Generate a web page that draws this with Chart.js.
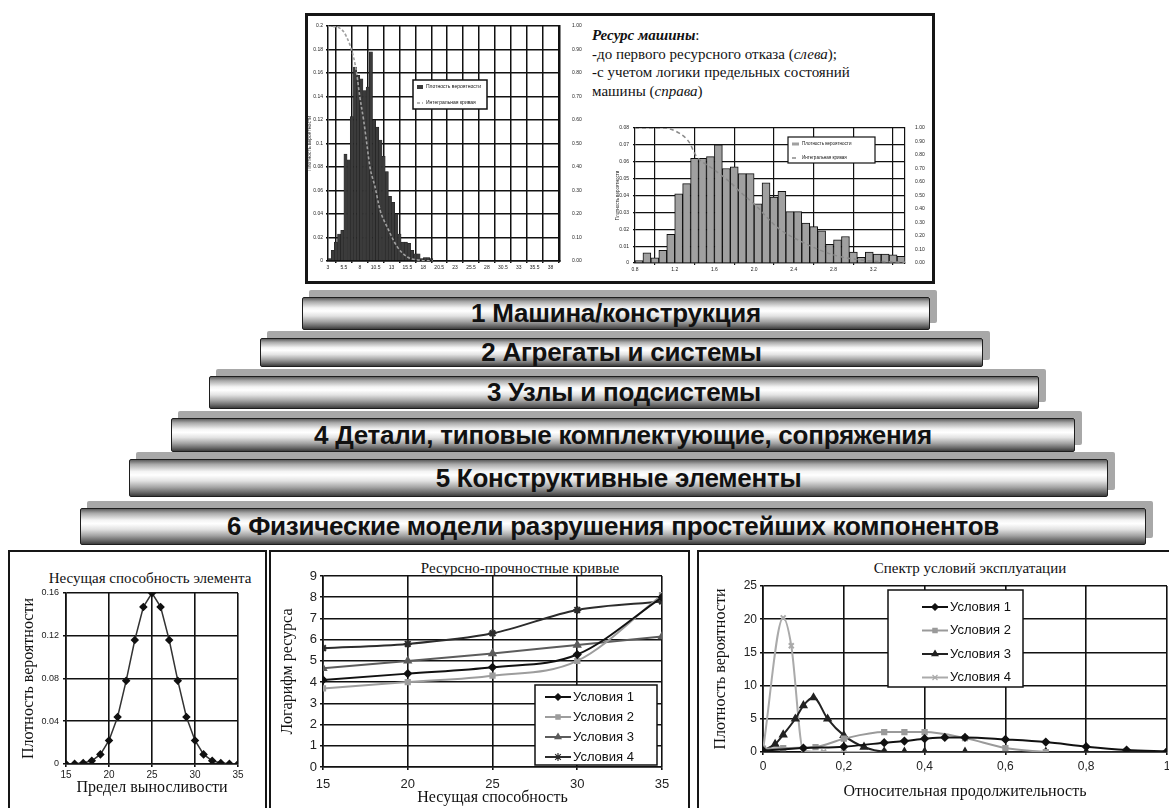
<!DOCTYPE html>
<html lang="ru">
<head>
<meta charset="UTF-8">
<title>Ресурс машины</title>
<script src="https://cdn.jsdelivr.net/npm/chart.js@4.4.1/dist/chart.umd.min.js"></script>
<style>
  html, body { margin: 0; padding: 0; background: #fff; overflow: hidden; }
  #page { position: relative; width: 1169px; height: 808px; overflow: hidden; background: #fff; }
  .box { position: absolute; box-sizing: border-box; border: 2px solid #161616; background: #fff; }
  .plot { position: absolute; }
  .level {
    position: absolute; box-sizing: border-box; border: 1.5px solid #1e1e1e; border-radius: 2px;
    background: linear-gradient(to bottom, #5e5e5e 0%, #a9a9a9 12%, #f4f4f4 32%, #ffffff 42%, #e2e2e2 58%, #a4a4a4 76%, #6a6a6a 90%, #3c3c3c 100%);
    box-shadow: 7px -7px 0 #a8a8a8;
    display: flex; align-items: center; justify-content: center; white-space: nowrap;
    font-family: "Liberation Sans", Arial, sans-serif; font-weight: bold; font-size: 26px; letter-spacing: -0.25px; color: #111;
  }
  .cap { position: absolute; font-family: "Liberation Serif", "Times New Roman", serif; color: #111; white-space: nowrap; transform: translate(-50%, -50%); }
  #note { position: absolute; left: 592px; top: 26px; font-family: "Liberation Serif", serif; font-size: 15px; line-height: 18.5px; color: #111; white-space: nowrap; }
</style>
</head>
<body>
<div id="page">
  <div class="box" style="left:305px; top:13px; width:630px; height:271px; border-width:3px;"></div>
  <div id="note">
    <b><i>Ресурс машины</i></b>:<br>
    -до первого ресурсного отказа (<i>слева</i>);<br>
    -с учетом логики предельных состояний<br>
    машины (<i>справа</i>)
  </div>
  <div class="plot" style="left:306px; top:18px; width:280px; height:260px;"><canvas id="histLeft"></canvas></div>
  <div class="plot" style="left:612px; top:118px; width:318px; height:160px;"><canvas id="histRight"></canvas></div>

  <div id="levels"></div>

  <div class="box" style="left:8px; top:550px; width:259px; height:280px;"></div>
  <div class="box" style="left:269px; top:550px; width:421px; height:280px;"></div>
  <div class="box" style="left:697px; top:550px; width:500px; height:280px;"></div>

  <div class="cap" style="left:150px; top:578px; font-size:15px;">Несущая способность элемента</div>
  <div class="cap" style="left:520px; top:568px; font-size:15px;">Ресурсно-прочностные кривые</div>
  <div class="cap" style="left:970px; top:568px; font-size:15px;">Спектр условий эксплуатации</div>

  <div class="plot" style="left:12px; top:553px; width:251px; height:255px;"><canvas id="loadChart"></canvas></div>
  <div class="plot" style="left:272px; top:553px; width:414px; height:255px;"><canvas id="lifeChart"></canvas></div>
  <div class="plot" style="left:701px; top:553px; width:478px; height:255px;"><canvas id="specChart"></canvas></div>
</div>

<script>
  // --- top-left histogram: resource to first failure ---
  const leftHistBins = [3.25, 3.75, 4.25, 4.75, 5.25, 5.75, 6.25, 6.75, 7.25, 7.75, 8.25, 8.75, 9.25, 9.75, 10.25, 10.75,
    11.25, 11.75, 12.25, 12.75, 13.25, 13.75, 14.25, 14.75, 15.25, 15.75, 16.25, 16.75, 17.25, 17.75, 18.25, 18.75, 19.25];
  const leftHistDensity = [0.002, 0.009, 0.016, 0.023, 0.026, 0.091, 0.086, 0.123, 0.165, 0.158, 0.155, 0.145, 0.148, 0.178, 0.12, 0.114,
    0.103, 0.089, 0.076, 0.055, 0.05, 0.04, 0.023, 0.016, 0.016, 0.015, 0.009, 0.006, 0.006, 0.002, 0.003, 0.003, 0.002];
  const leftSurvX = [3, 4.9, 5.9, 7, 7.5, 8, 8.6, 9.1, 9.6, 10.4, 11.2, 12.3, 13.9, 15.5, 17.6, 19.5];
  const leftSurvP = [1, 0.99, 0.955, 0.87, 0.8, 0.7, 0.6, 0.5, 0.4, 0.315, 0.216, 0.145, 0.06, 0.017, 0.003, 0];
  const leftHistTicks = [3, 5.5, 8, 10.5, 13, 15.5, 18, 20.5, 23, 25.5, 28, 30.5, 33, 35.5, 38];

  // --- top-right histogram: resource with limit-state logic ---
  const rightHistBins = [0.84, 0.92, 1.00, 1.08, 1.16, 1.24, 1.32, 1.40, 1.48, 1.56, 1.64, 1.72, 1.80, 1.88, 1.96, 2.04, 2.12,
    2.20, 2.28, 2.36, 2.44, 2.52, 2.60, 2.68, 2.76, 2.84, 2.92, 3.00, 3.08, 3.16, 3.24, 3.32, 3.40, 3.48];
  const rightHistDensity = [0.0014, 0.006, 0.003, 0.0075, 0.017, 0.041, 0.047, 0.062, 0.062, 0.063, 0.070, 0.056, 0.057, 0.053, 0.053, 0.035, 0.0475,
    0.039, 0.0425, 0.0305, 0.0305, 0.0236, 0.0216, 0.019, 0.011, 0.0138, 0.0157, 0.0065, 0.0033, 0.0065, 0.0053, 0.0053, 0.0049, 0.004];
  const rightSurvX = [0.8, 1.08, 1.25, 1.35, 1.41, 1.58, 1.74, 1.87, 2.01, 2.24, 2.5, 2.8, 3.1, 3.52];
  const rightSurvP = [1, 1, 0.96, 0.89, 0.8, 0.7, 0.61, 0.52, 0.43, 0.26, 0.15, 0.06, 0.02, 0.005];
  const rightHistTicks = [0.8, 1.2, 1.6, 2.0, 2.4, 2.8, 3.2];

  // --- hierarchy levels ---
  const levelNames = ['1 Машина/конструкция', '2 Агрегаты и системы', '3 Узлы и подсистемы',
    '4 Детали, типовые комплектующие, сопряжения', '5 Конструктивные элементы',
    '6 Физические модели разрушения простейших компонентов'];

  // --- bottom-left: element bearing capacity ---
  const enduranceX = [15, 16, 17, 18, 19, 20, 21, 22, 23, 24, 25, 26, 27, 28, 29, 30, 31, 32, 33, 34, 35];
  const endurancePdf = [0, 0.0002, 0.001, 0.003, 0.009, 0.022, 0.044, 0.078, 0.116, 0.147, 0.16, 0.147, 0.116, 0.078, 0.044, 0.022, 0.009, 0.003, 0.001, 0.0002, 0];

  // --- bottom-middle: life vs strength curves ---
  const strengthX = [15, 20, 25, 30, 35];
  const lifeCond1 = [4.1, 4.4, 4.7, 5.3, 8.0];
  const lifeCond2 = [3.7, 4.0, 4.3, 5.0, 8.1];
  const lifeCond3 = [4.65, 5.0, 5.35, 5.75, 6.15];
  const lifeCond4 = [5.6, 5.8, 6.3, 7.4, 7.8];
  const condNames = ['Условия 1', 'Условия 2', 'Условия 3', 'Условия 4'];

  // --- bottom-right: operating conditions spectrum ---
  const specX1 = [0, 0.1, 0.2, 0.3, 0.35, 0.4, 0.45, 0.5, 0.6, 0.7, 0.8, 0.9, 1.0];
  const specY1 = [0.2, 0.6, 0.8, 1.4, 1.65, 2.0, 2.2, 2.2, 1.9, 1.5, 0.8, 0.3, 0.1];
  const specX2 = [0, 0.05, 0.13, 0.2, 0.3, 0.35, 0.4, 0.5, 0.6, 0.7];
  const specY2 = [0.5, 0.6, 0.75, 2.0, 3.0, 3.0, 3.0, 2.1, 0.6, 0];
  const specX3 = [0, 0.03, 0.05, 0.08, 0.1, 0.125, 0.16, 0.2, 0.25, 0.3, 0.35, 0.4, 0.5, 0.6, 0.7, 0.8, 0.9, 1.0];
  const specY3 = [0.2, 1.2, 2.6, 5.0, 7.0, 8.2, 5.0, 2.5, 0.75, 0.05, 0, 0, 0, 0, 0, 0, 0, 0];
  const specX4 = [0, 0.05, 0.07, 0.1, 0.15, 0.2, 0.3];
  const specY4 = [0.3, 20.2, 16, 0.2, 0, 0, 0];

  const zip = (xs, ys) => xs.map((x, i) => ({ x: x, y: ys[i] }));
  const fit = n => s => { if (s.isHorizontal()) s.height = n; else s.width = n; };

  Chart.defaults.font.family = '"Liberation Sans", Arial, sans-serif';
  Chart.defaults.color = '#222';

  // legend drawn as a framed box inside the plot
  const boxLegend = {
    id: 'boxLegend',
    afterDatasetsDraw(chart, args, o) {
      if (!o || !o.display) return;
      const ctx = chart.ctx;
      ctx.save();
      ctx.fillStyle = '#fff';
      ctx.fillRect(o.x, o.y, o.w, o.h);
      ctx.lineWidth = o.border;
      ctx.strokeStyle = '#111';
      ctx.strokeRect(o.x, o.y, o.w, o.h);
      ctx.font = o.font;
      ctx.textBaseline = 'middle';
      chart.data.datasets.forEach((ds, i) => {
        const cy = o.y + o.row0 + i * o.rowH;
        const x0 = o.x + o.line0, x1 = o.x + o.line1;
        if ((ds.type || chart.config.type) === 'bar') {
          ctx.fillStyle = ds.backgroundColor;
          ctx.fillRect(x0, cy - o.sq / 2, x1 - x0, o.sq);
        } else {
          ctx.strokeStyle = ds.borderColor;
          ctx.lineWidth = ds.borderWidth;
          ctx.setLineDash(ds.borderDash || []);
          ctx.beginPath(); ctx.moveTo(x0, cy); ctx.lineTo(x1, cy); ctx.stroke();
          ctx.setLineDash([]);
          if (ds.pointRadius > 0) {
            ctx.fillStyle = ds.pointBackgroundColor;
            ctx.strokeStyle = ds.pointBorderColor;
            ctx.lineWidth = 1.2;
            Chart.helpers.drawPoint(ctx, { pointStyle: ds.pointStyle, radius: ds.pointRadius, borderWidth: 1.2, rotation: 0 }, (x0 + x1) / 2, cy);
          }
        }
        ctx.fillStyle = '#111';
        ctx.fillText(ds.label, o.x + o.text, cy);
      });
      ctx.restore();
    }
  };
  Chart.register(boxLegend);

  const base = {
    responsive: true,
    maintainAspectRatio: false,
    animation: false,
    plugins: { legend: { display: false }, tooltip: { enabled: false } }
  };

  // top-left histogram
  new Chart(document.getElementById('histLeft'), {
    type: 'bar',
    data: {
      datasets: [
        { type: 'bar', label: 'Плотность вероятности', data: zip(leftHistBins, leftHistDensity), backgroundColor: '#3b3b3b',
          borderColor: '#1e1e1e', borderWidth: 0.5, barPercentage: 1, categoryPercentage: 1, yAxisID: 'y', order: 2 },
        { type: 'line', label: 'Интегральная кривая', data: zip(leftSurvX, leftSurvP), borderColor: '#a0a0a0', borderWidth: 1.6,
          borderDash: [3, 2], pointRadius: 0, cubicInterpolationMode: 'monotone', yAxisID: 'y2', order: 1 }
      ]
    },
    options: {
      ...base,
      layout: { padding: { top: 8 } },
      plugins: { ...base.plugins,
        boxLegend: { display: true, x: 107, y: 62, w: 74, h: 29, border: 1.5, row0: 7, rowH: 16, line0: 4, line1: 10, sq: 4, text: 13, font: '5px "Liberation Sans"' } },
      scales: {
        x: { type: 'linear', min: 3, max: 39.5, offset: false, afterFit: fit(17),
          afterBuildTicks: s => { s.ticks = leftHistTicks.map(v => ({ value: v })); },
          grid: { color: '#111', lineWidth: 1.5, tickLength: 2 }, border: { color: '#111', width: 1.5 },
          ticks: { font: { size: 5 }, padding: 2, maxRotation: 0, autoSkip: false, callback: v => String(v) } },
        y: { min: 0, max: 0.2, afterFit: fit(22),
          grid: { color: '#111', lineWidth: 1.5, tickLength: 2 }, border: { color: '#111', width: 1.5 },
          ticks: { stepSize: 0.02, font: { size: 5 }, padding: 3, callback: v => (v === 0 ? '0' : String(+v.toFixed(2))) },
          title: { display: true, text: 'Плотность вероятности', font: { size: 5 }, padding: { top: 1 } } },
        y2: { position: 'right', min: 0, max: 1, afterFit: fit(26),
          grid: { display: false }, border: { color: '#111', width: 1.5 },
          ticks: { stepSize: 0.1, font: { size: 5 }, padding: 4, callback: v => v.toFixed(2) } }
      }
    }
  });

  // top-right histogram
  new Chart(document.getElementById('histRight'), {
    type: 'bar',
    data: {
      datasets: [
        { type: 'bar', label: 'Плотность вероятности', data: zip(rightHistBins, rightHistDensity), backgroundColor: '#a0a0a0',
          borderColor: '#111', borderWidth: 1, barPercentage: 1, categoryPercentage: 1, yAxisID: 'y', order: 2 },
        { type: 'line', label: 'Интегральная кривая', data: zip(rightSurvX, rightSurvP), borderColor: '#8a8a8a', borderWidth: 1.5,
          borderDash: [4, 3], pointRadius: 0, cubicInterpolationMode: 'monotone', yAxisID: 'y2', order: 1 }
      ]
    },
    options: {
      ...base,
      layout: { padding: { top: 10 } },
      plugins: { ...base.plugins,
        boxLegend: { display: true, x: 176, y: 19, w: 87, h: 26, border: 1.2, row0: 7, rowH: 14, line0: 4, line1: 11, sq: 3, text: 14, font: '4.5px "Liberation Sans"' } },
      scales: {
        x: { type: 'linear', min: 0.8, max: 3.52, offset: false, afterFit: fit(15),
          afterBuildTicks: s => { s.ticks = rightHistTicks.map(v => ({ value: v })); },
          grid: { color: '#111', lineWidth: 1.2, tickLength: 2 }, border: { color: '#111', width: 1.2 },
          ticks: { font: { size: 5 }, padding: 2, maxRotation: 0, autoSkip: false, callback: v => v.toFixed(1) } },
        y: { min: 0, max: 0.08, afterFit: fit(23),
          grid: { color: '#111', lineWidth: 1.2, tickLength: 2 }, border: { color: '#111', width: 1.2 },
          ticks: { stepSize: 0.01, font: { size: 5 }, padding: 4, callback: v => (v === 0 ? '0' : v.toFixed(2)) },
          title: { display: true, text: 'Плотность вероятности', font: { size: 4.5 }, padding: { top: 3 } } },
        y2: { position: 'right', min: 0, max: 1, afterFit: fit(25),
          grid: { display: false }, border: { color: '#111', width: 1.2 },
          ticks: { stepSize: 0.1, font: { size: 5 }, padding: 2, callback: v => v.toFixed(2) } }
      }
    }
  });

  // pyramid of levels
  const levelBoxes = [
    { l: 302, t: 297, w: 628, h: 33 },
    { l: 260, t: 338, w: 723, h: 29 },
    { l: 209, t: 376, w: 830, h: 33 },
    { l: 171, t: 418, w: 904, h: 34 },
    { l: 129, t: 459, w: 979, h: 38 },
    { l: 80, t: 508, w: 1066, h: 37 }
  ];
  const levelsEl = document.getElementById('levels');
  levelNames.forEach((name, i) => {
    const b = levelBoxes[i];
    const d = document.createElement('div');
    d.className = 'level';
    d.style.cssText = `left:${b.l}px; top:${b.t}px; width:${b.w}px; height:${b.h}px; z-index:${10 - i};`;
    d.textContent = name;
    levelsEl.appendChild(d);
  });

  const gridBlack = { color: '#111', lineWidth: 1.6, tickLength: 3, tickColor: '#111' };
  const borderBlack = { color: '#111', width: 1.6 };
  const serifTitle = (text, pad) => ({ display: true, text: text, color: '#111', font: { family: '"Liberation Serif", serif', size: 16 }, padding: pad });

  // bottom-left: bearing capacity distribution
  new Chart(document.getElementById('loadChart'), {
    type: 'line',
    data: {
      datasets: [
        { label: 'Несущая способность', data: zip(enduranceX, endurancePdf), borderColor: '#333', borderWidth: 1.5,
          pointStyle: 'rectRot', pointRadius: 3.2, pointBackgroundColor: '#111', pointBorderColor: '#111' }
      ]
    },
    options: {
      ...base,
      layout: { padding: { top: 40, right: 25 } },
      scales: {
        x: { type: 'linear', min: 15, max: 35, afterFit: fit(44), grid: gridBlack, border: borderBlack,
          ticks: { stepSize: 5, font: { size: 10 }, padding: 2, maxRotation: 0 },
          title: serifTitle('Предел выносливости', { bottom: 11 }) },
        y: { min: 0, max: 0.16, afterFit: fit(54), grid: gridBlack, border: borderBlack,
          ticks: { stepSize: 0.04, font: { size: 9 }, padding: 4, callback: v => (v === 0 ? '0' : v.toFixed(2)) },
          title: serifTitle('Плотность вероятности', { top: 7 }) }
      }
    }
  });

  // bottom-middle: life vs bearing capacity
  const lifeStyles = [
    { c: '#111', p: 'rectRot', r: 3.2 },
    { c: '#9d9d9d', p: 'rect', r: 3 },
    { c: '#5c5c5c', p: 'triangle', r: 3.4 },
    { c: '#2c2c2c', p: 'star', r: 4 }
  ];
  const lifeSeries = [lifeCond1, lifeCond2, lifeCond3, lifeCond4];
  new Chart(document.getElementById('lifeChart'), {
    type: 'line',
    data: {
      datasets: lifeSeries.map((ys, i) => ({
        label: condNames[i], data: zip(strengthX, ys), borderColor: lifeStyles[i].c, borderWidth: 2,
        pointStyle: lifeStyles[i].p, pointRadius: lifeStyles[i].r, pointBackgroundColor: lifeStyles[i].c,
        pointBorderColor: lifeStyles[i].c, cubicInterpolationMode: 'monotone'
      }))
    },
    options: {
      ...base,
      layout: { padding: { top: 23, right: 24 } },
      plugins: { ...base.plugins,
        boxLegend: { display: true, x: 263, y: 132, w: 122, h: 80, border: 1.5, row0: 12, rowH: 20, line0: 10, line1: 36, text: 38, font: '13px "Liberation Sans"' } },
      scales: {
        x: { type: 'linear', min: 15, max: 35, afterFit: fit(41), grid: gridBlack, border: borderBlack,
          ticks: { stepSize: 5, font: { size: 13 }, padding: 7, maxRotation: 0 },
          title: serifTitle('Несущая способность', { bottom: 1 }) },
        y: { min: 0, max: 9, afterFit: fit(51), grid: gridBlack, border: borderBlack,
          ticks: { stepSize: 1, font: { size: 13 }, padding: 3 },
          title: serifTitle('Логарифм ресурса', { top: 6 }) }
      }
    }
  });

  // bottom-right: operating conditions spectrum
  const specStyles = [
    { c: '#111', p: 'rectRot', r: 3.2 },
    { c: '#9a9a9a', p: 'rect', r: 3 },
    { c: '#222', p: 'triangle', r: 3.4 },
    { c: '#aaaaaa', p: 'crossRot', r: 3.5 }
  ];
  const specSeries = [zip(specX1, specY1), zip(specX2, specY2), zip(specX3, specY3), zip(specX4, specY4)];
  new Chart(document.getElementById('specChart'), {
    type: 'line',
    data: {
      datasets: specSeries.map((pts, i) => ({
        label: condNames[i], data: pts, borderColor: specStyles[i].c, borderWidth: 2,
        pointStyle: specStyles[i].p, pointRadius: specStyles[i].r, pointBackgroundColor: specStyles[i].c,
        pointBorderColor: specStyles[i].c, cubicInterpolationMode: 'monotone'
      }))
    },
    options: {
      ...base,
      layout: { padding: { top: 33, right: 12 } },
      plugins: { ...base.plugins,
        boxLegend: { display: true, x: 187, y: 37, w: 135, h: 97, border: 1.5, row0: 17, rowH: 23.5, line0: 34, line1: 60, text: 62, font: '13px "Liberation Sans"' } },
      scales: {
        x: { type: 'linear', min: 0, max: 1, afterFit: fit(56), grid: gridBlack, border: borderBlack,
          ticks: { stepSize: 0.2, font: { size: 12 }, padding: 4, maxRotation: 0,
            callback: v => (v === 0 || v === 1 ? String(v) : v.toFixed(1).replace('.', ',')) },
          title: serifTitle('Относительная продолжительность', { bottom: 7 }) },
        y: { min: 0, max: 25, afterFit: fit(62), grid: gridBlack, border: borderBlack,
          ticks: { stepSize: 5, font: { size: 12 }, padding: 3 },
          title: serifTitle('Плотность вероятности', { top: 10 }) }
      }
    }
  });
</script>
</body>
</html>
